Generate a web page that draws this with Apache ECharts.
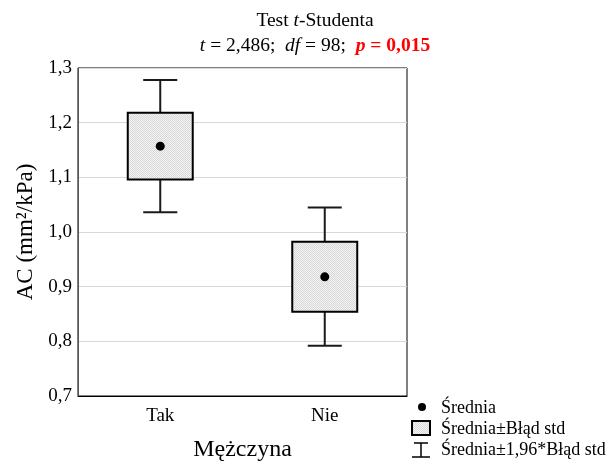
<!DOCTYPE html>
<html>
<head>
<meta charset="utf-8">
<script src="https://cdn.jsdelivr.net/npm/echarts@6/dist/echarts.min.js"></script>
<style>
  html, body { margin: 0; padding: 0; background: #fff; }
  #chart { width: 611px; height: 464px; }
</style>
</head>
<body>
<div id="chart"></div>
<script>
// Groups and their summary statistics (AC, mm²/kPa)
const categories = ['Tak', 'Nie'];
const means = [1.157, 0.918];
const seLow = [1.096, 0.854];      // mean - standard error
const seHigh = [1.218, 0.982];     // mean + standard error
const ciLow = [1.036, 0.792];      // mean - 1.96 * standard error
const ciHigh = [1.278, 1.045];     // mean + 1.96 * standard error
const yTicks = [0.7, 0.8, 0.9, 1.0, 1.1, 1.2, 1.3];

const SERIF = '"Liberation Serif", "Times New Roman", serif';

// Fine dithered grey used for the box fill
function makePattern() {
  const c = document.createElement('canvas');
  c.width = 2; c.height = 2;
  const g = c.getContext('2d');
  g.fillStyle = '#f2f2f2'; g.fillRect(0, 0, 2, 2);
  g.fillStyle = '#d9d9d9'; g.fillRect(0, 0, 1, 1); g.fillRect(1, 1, 1, 1);
  return c;
}
const boxFill = { image: makePattern(), repeat: 'repeat' };

const rows = categories.map((c, i) => [i, means[i], seLow[i], seHigh[i], ciLow[i], ciHigh[i]]);

const chart = echarts.init(document.getElementById('chart'));

function renderItem(params, api) {
  const x = api.value(0);
  const mean = api.coord([x, api.value(1)]);
  const bLo = api.coord([x, api.value(2)]);
  const bHi = api.coord([x, api.value(3)]);
  const wLo = api.coord([x, api.value(4)]);
  const wHi = api.coord([x, api.value(5)]);
  const band = api.size([1, 0])[0];
  const boxW = band * 0.395;
  const capW = band * 0.207;
  const cx = mean[0];
  const lineStyle = { stroke: '#1a1a1a', lineWidth: 2 };
  return {
    type: 'group',
    children: [
      { type: 'line', shape: { x1: cx, y1: wHi[1], x2: cx, y2: bHi[1] }, style: lineStyle },
      { type: 'line', shape: { x1: cx, y1: bLo[1], x2: cx, y2: wLo[1] }, style: lineStyle },
      { type: 'line', shape: { x1: cx - capW / 2, y1: wHi[1], x2: cx + capW / 2, y2: wHi[1] }, style: lineStyle },
      { type: 'line', shape: { x1: cx - capW / 2, y1: wLo[1], x2: cx + capW / 2, y2: wLo[1] }, style: lineStyle },
      { type: 'rect', shape: { x: cx - boxW / 2, y: bHi[1], width: boxW, height: bLo[1] - bHi[1] },
        style: { fill: boxFill, stroke: '#000', lineWidth: 2 } },
      { type: 'circle', shape: { cx: cx, cy: mean[1], r: 4.5 }, style: { fill: '#000' } }
    ]
  };
}

// Legend drawn as graphic elements (bottom right)
const LF = '18px ' + SERIF;
const legend = [
  { type: 'circle', shape: { cx: 422, cy: 407, r: 4 }, style: { fill: '#000' } },
  { type: 'text', x: 441, y: 408, style: { text: 'Średnia', font: LF, fill: '#000', verticalAlign: 'middle' } },
  { type: 'rect', shape: { x: 412, y: 421, width: 18, height: 14 }, style: { fill: boxFill, stroke: '#000', lineWidth: 2 } },
  { type: 'text', x: 441, y: 429, style: { text: 'Średnia±Błąd std', font: LF, fill: '#000', verticalAlign: 'middle' } },
  { type: 'line', shape: { x1: 414, y1: 443, x2: 428, y2: 443 }, style: { stroke: '#000', lineWidth: 1.5 } },
  { type: 'line', shape: { x1: 421, y1: 443, x2: 421, y2: 457 }, style: { stroke: '#000', lineWidth: 1.5 } },
  { type: 'line', shape: { x1: 412, y1: 457, x2: 430, y2: 457 }, style: { stroke: '#000', lineWidth: 1.5 } },
  { type: 'text', x: 441, y: 450, style: { text: 'Średnia±1,96*Błąd std', font: LF, fill: '#000', verticalAlign: 'middle' } }
];

chart.setOption({
  backgroundColor: '#fff',
  animation: false,
  title: {
    left: 310, top: 3, textAlign: 'center',
    text: '{n|Test }{i|t}{n|-Studenta}\n{i|t}{n| = 2,486;  }{i|df}{n| = 98;  }{p|p}{b| = 0,015}',
    textStyle: {
      fontWeight: 'normal',
      lineHeight: 25,
      rich: {
        n: { fontFamily: SERIF, fontSize: 19.5, fontWeight: 'normal', color: '#000', lineHeight: 25 },
        i: { fontFamily: SERIF, fontSize: 19.5, fontStyle: 'italic', fontWeight: 'normal', color: '#000', lineHeight: 25 },
        p: { fontFamily: SERIF, fontSize: 19.5, fontStyle: 'italic', fontWeight: 'bold', color: '#ff0000', lineHeight: 25 },
        b: { fontFamily: SERIF, fontSize: 19.5, fontWeight: 'bold', color: '#ff0000', lineHeight: 25 }
      }
    }
  },
  grid: {
    left: 78, right: 204, top: 68, bottom: 68,
    outerBoundsMode: 'none', containLabel: false,
    show: true, borderColor: '#000', borderWidth: 1, backgroundColor: 'transparent'
  },
  xAxis: {
    type: 'category',
    data: categories,
    boundaryGap: true,
    name: 'Mężczyna',
    nameLocation: 'middle',
    nameGap: 42,
    nameTextStyle: { fontFamily: SERIF, fontSize: 24, color: '#000' },
    axisLine: { show: true, lineStyle: { color: '#000' } },
    axisTick: { show: false },
    axisLabel: { fontFamily: SERIF, fontSize: 19, color: '#000', margin: 11 },
    splitLine: { show: false }
  },
  yAxis: {
    type: 'value',
    min: 0.7, max: 1.3, interval: 0.1,
    name: 'AC (mm²/kPa)',
    nameLocation: 'middle',
    nameGap: 40,
    nameTextStyle: { fontFamily: SERIF, fontSize: 23, color: '#000' },
    axisLine: { show: true, lineStyle: { color: '#555' } },
    axisTick: { show: false },
    axisLabel: {
      fontFamily: SERIF, fontSize: 19, color: '#000', margin: 6,
      formatter: v => {
        const t = yTicks.find(k => Math.abs(k - v) < 1e-9);
        return (t !== undefined ? t : v).toFixed(1).replace('.', ',');
      }
    },
    splitLine: { show: true, lineStyle: { color: '#d8d8d8', width: 1 } }
  },
  series: [{
    type: 'custom',
    renderItem: renderItem,
    encode: { x: 0, y: [1, 2, 3, 4, 5] },
    data: rows,
    z: 3
  }],
  graphic: legend
});
</script>
</body>
</html>
